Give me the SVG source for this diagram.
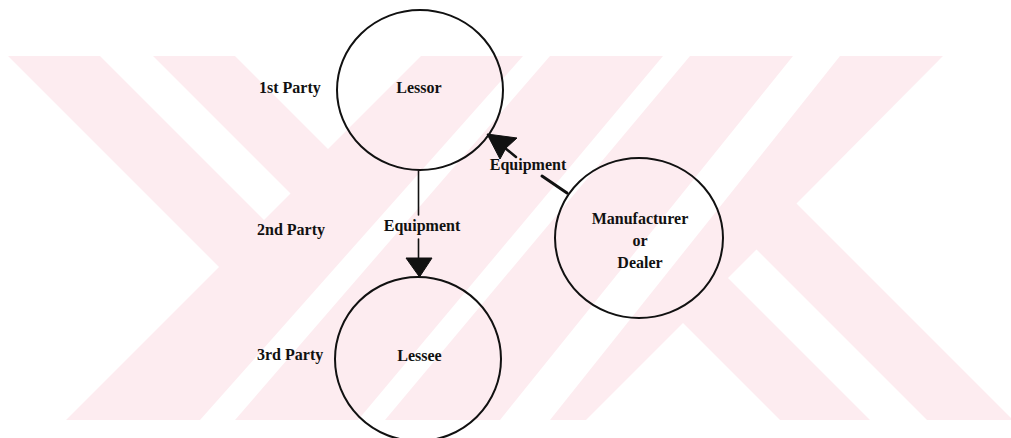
<svg xmlns="http://www.w3.org/2000/svg" width="1011" height="438" viewBox="0 0 1011 438">
  <style>
    .wm { fill: #fdecf0; }
    .wmw { fill: #ffffff; }
    .node { fill: none; stroke: #111; stroke-width: 2; }
    .lbl { font-family: "Liberation Serif", "Times New Roman", serif; font-weight: bold; font-size: 16px; fill: #111; }
    .mid { text-anchor: middle; }
    .edge { stroke: #111; fill: none; stroke-linecap: round; }
    .head { fill: #111; stroke: #111; stroke-width: 1; stroke-linejoin: round; }
  </style>
  <rect x="0" y="0" width="1011" height="438" fill="#ffffff"/>
  <g id="watermark">
    <rect class="wm" x="0" y="56" width="1011" height="364"/>
    <polygon class="wmw" points="0,56 8,56 219,267 66,420 0,420"/>
    <polygon class="wmw" points="100,56 153,56 290.5,193.5 264,220"/>
    <polygon class="wmw" points="235,56 421,56 328,149"/>
    <polygon class="wmw" points="523,56 550,56 235,420 200,420"/>
    <polygon class="wmw" points="663,56 690,56 385,420 358,420"/>
    <polygon class="wmw" points="793,56 840,56 550,420 500,420"/>
    <polygon class="wmw" points="683,323 780,420 586,420"/>
    <polygon class="wmw" points="728,278 756.5,249.5 927,420 870,420"/>
    <polygon class="wmw" points="943,56 1011,56 1011,418 796.5,203.5"/>
  </g>
  <g id="party-labels">
    <text class="lbl" x="259" y="93">1st Party</text>
    <text class="lbl" x="257" y="235">2nd Party</text>
    <text class="lbl" x="257" y="360">3rd Party</text>
  </g>
  <g id="node-lessor">
    <ellipse class="node" cx="420" cy="90" rx="83" ry="80"/>
    <text class="lbl mid" x="419" y="93">Lessor</text>
  </g>
  <g id="node-lessee">
    <ellipse class="node" cx="418" cy="359" rx="83" ry="82"/>
    <text class="lbl mid" x="419.5" y="361">Lessee</text>
  </g>
  <g id="node-manufacturer">
    <ellipse class="node" cx="639" cy="238" rx="84" ry="80"/>
    <text class="lbl mid" x="640" y="224">Manufacturer</text>
    <text class="lbl mid" x="640" y="246">or</text>
    <text class="lbl mid" x="640" y="268">Dealer</text>
  </g>
  <g id="connectors">
    <g id="edge-lessor-lessee">
      <line class="edge" x1="418.5" y1="171" x2="418.5" y2="215" stroke-width="1.6"/>
      <line class="edge" x1="418.5" y1="239" x2="418.5" y2="259" stroke-width="1.6"/>
      <polygon class="head" points="406,258 432,258 419.5,277"/>
      <text class="lbl mid" x="422" y="231">Equipment</text>
    </g>
    <g id="edge-manufacturer-lessor">
      <line class="edge" x1="567" y1="193" x2="542" y2="176" stroke-width="3"/>
      <line class="edge" x1="516" y1="157" x2="505" y2="148" stroke-width="2.5"/>
      <polygon class="head" points="487,134 517,138 506,148 500,159"/>
      <text class="lbl mid" x="528" y="170">Equipment</text>
    </g>
  </g>
</svg>
